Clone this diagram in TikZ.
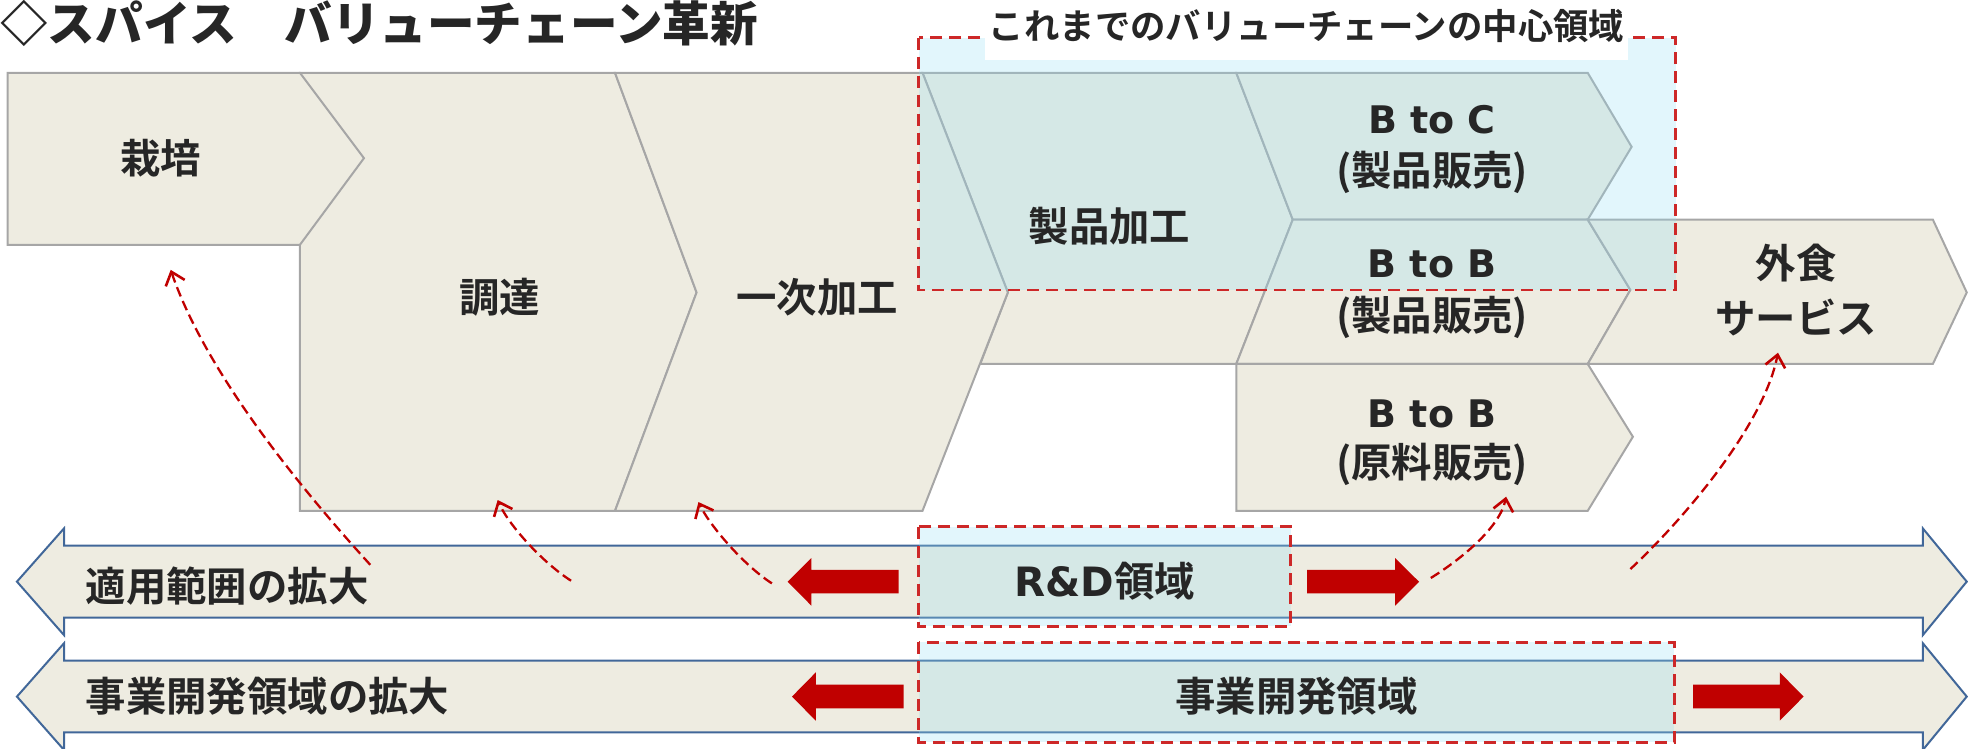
\documentclass[tikz,border=0pt]{standalone}
\usepackage{fontspec}
\setmainfont{Noto Sans CJK JP}[BoldFont={Noto Sans CJK JP Bold}]
\IfFontExistsTF{Noto Sans CJK JP Black}
  {\newfontfamily\heavyjp{Noto Sans CJK JP Black}}
  {\newfontfamily\heavyjp{Noto Sans CJK JP Bold}}
\newfontfamily\lat{DejaVu Sans}
\usetikzlibrary{arrows.meta}
\definecolor{tanfill}{RGB}{238,236,225}
\definecolor{edgegray}{RGB}{166,166,166}
\definecolor{bandblue}{RGB}{65,103,153}
\definecolor{dred}{RGB}{192,0,0}
\definecolor{boxred}{RGB}{205,40,40}
\definecolor{txt}{RGB}{38,38,38}
\definecolor{hl}{RGB}{150,222,245}
\tikzset{
  shapebox/.style={draw=edgegray, line width=1pt, fill=tanfill, line join=miter},
  bandarrow/.style={draw=bandblue, line width=1pt, fill=tanfill},
  redarrow/.style={fill=dred, draw=none},
  zone/.style={draw=boxred, line width=1.4pt, dash pattern=on 6pt off 3.5pt},
  zonefill/.style={fill=hl, fill opacity=0.28, draw=none},
  lbl/.style={text=txt, font=\bfseries\fontsize{20.2pt}{24pt}\selectfont, inner sep=0pt},
  latlbl/.style={text=txt, font=\lat\bfseries\fontsize{19pt}{23pt}\selectfont, inner sep=0pt},
  flow/.style={draw=dred, line width=1.15pt, dash pattern=on 5pt off 2.5pt, -{Straight Barb[length=6pt,width=10pt,line width=1.3pt]}}
}
\begin{document}
\begin{tikzpicture}[x=0.6276pt, y=-0.6276pt]
\useasboundingbox (0,0) rectangle (1568,596);
% chain shapes
\draw[shapebox] (239,58)--(490,58)--(555,233)--(490,407)--(239,407)--cycle;
\draw[shapebox] (6,58)--(239,58)--(290,126)--(239,195)--(6,195)--cycle;
\draw[shapebox] (735,58)--(985,58)--(1030,175)--(985,290)--(781,290)--(803,233)--cycle;
\draw[shapebox] (490,58)--(735,58)--(803,233)--(735,407)--(490,407)--(555,233)--cycle;
\draw[shapebox] (985,58)--(1265,58)--(1300,117)--(1265,175)--(1030,175)--cycle;
\draw[shapebox] (1030,175)--(1265,175)--(1299,231)--(1265,290)--(985,290)--cycle;
\draw[shapebox] (1265,175)--(1540,175)--(1567,233)--(1540,290)--(1265,290)--(1299,231)--cycle;
\draw[shapebox] (985,290)--(1265,290)--(1301,348)--(1265,407)--(985,407)--cycle;
% band arrows
\draw[bandarrow] (13.5,463.4)--(51,421)--(51,434.8)--(1532,434.8)--(1532,421)--(1567,463.4)--(1532,506)--(1532,492)--(51,492)--(51,506)--cycle;
\draw[bandarrow] (13.5,555)--(51,512.5)--(51,526.4)--(1532,526.4)--(1532,512.5)--(1567,555)--(1532,597.5)--(1532,583.5)--(51,583.5)--(51,597.5)--cycle;
% red block arrows
\fill[redarrow] (627.6,463.5)--(646.5,444.6)--(646.5,454)--(716,454)--(716,472.7)--(646.5,472.7)--(646.5,482.6)--cycle;
\fill[redarrow] (1130.6,463.5)--(1111.5,444.6)--(1111.5,454)--(1041.5,454)--(1041.5,472.7)--(1111.5,472.7)--(1111.5,482.6)--cycle;
\fill[redarrow] (631,555)--(650,535.7)--(650,545.5)--(720,545.5)--(720,564.4)--(650,564.4)--(650,574.2)--cycle;
\fill[redarrow] (1437,555)--(1418,535.7)--(1418,545.5)--(1349,545.5)--(1349,564.4)--(1418,564.4)--(1418,574.2)--cycle;
% zones
\fill[zonefill] (732,30) rectangle (1335,231);
\fill[zonefill] (732,419.6) rectangle (1028.5,499);
\fill[zonefill] (732,511.8) rectangle (1334,591.4);
\draw[zone] (732,30) rectangle (1335,231);
\draw[zone] (732,419.6) rectangle (1028.5,499);
\draw[zone] (732,511.8) rectangle (1334,591.4);
\fill[white] (785,3) rectangle (1297,48);
\node[text=txt, font=\bfseries\fontsize{17.7pt}{20pt}\selectfont, inner sep=0pt] (zonelabel) at (1041,21) {これまでのバリューチェーンの中心領域};
% title
\node[anchor=west, text=txt, font=\heavyjp\fontsize{23.8pt}{26pt}\selectfont, inner sep=0pt] (title) at (0,19) {◇スパイス　バリューチェーン革新};
% labels
\node[lbl] (saibai) at (128,126) {栽培};
\node[lbl] (chotatsu) at (398,237) {調達};
\node[lbl] (ichiji) at (651,237) {一次加工};
\node[lbl] (seihin) at (884,180) {製品加工};
\node[latlbl] (btoc) at (1141,95) {B to C};
\node[lbl] (btocsub) at (1141,137) {(製品販売)};
\node[latlbl] (btob) at (1141,210) {B to B};
\node[lbl] (btobsub) at (1141,253) {(製品販売)};
\node[lbl] (gaishoku) at (1431,210) {外食};
\node[lbl] (service) at (1431,253) {サービス};
\node[latlbl] (btob2) at (1141,330) {B to B};
\node[lbl] (btob2sub) at (1141,370) {(原料販売)};
\node[lbl, anchor=west] (tekiyo) at (68,467) {適用範囲の拡大};
\node[lbl, anchor=west] (jigyokakudai) at (68,555) {事業開発領域の拡大};
\node[lbl] (rd) at (880,463) {{\lat R\&D}領域};
\node[lbl] (jigyo) at (1033,555) {事業開発領域};
% dashed flow arrows
\coordinate (s1) at (295,450); \coordinate (e1) at (136,215);
\coordinate (s2) at (455,462.7); \coordinate (e2) at (396.5,398.4);
\coordinate (s3) at (615,464.8); \coordinate (e3) at (556.5,400);
\coordinate (s4) at (1140,460.5); \coordinate (e4) at (1200,395.7);
\coordinate (s5) at (1299,453.4); \coordinate (e5) at (1416.6,281);
\draw[flow] (s1) .. controls (245,395) and (165,300) .. (e1);
\draw[flow] (s2) .. controls (432,448) and (405,418) .. (e2);
\draw[flow] (s3) .. controls (592,450) and (565,418) .. (e3);
\draw[flow] (s4) .. controls (1165,445) and (1195,420) .. (e4);
\draw[flow] (s5) .. controls (1340,415) and (1405,340) .. (e5);
\end{tikzpicture}
\end{document}
